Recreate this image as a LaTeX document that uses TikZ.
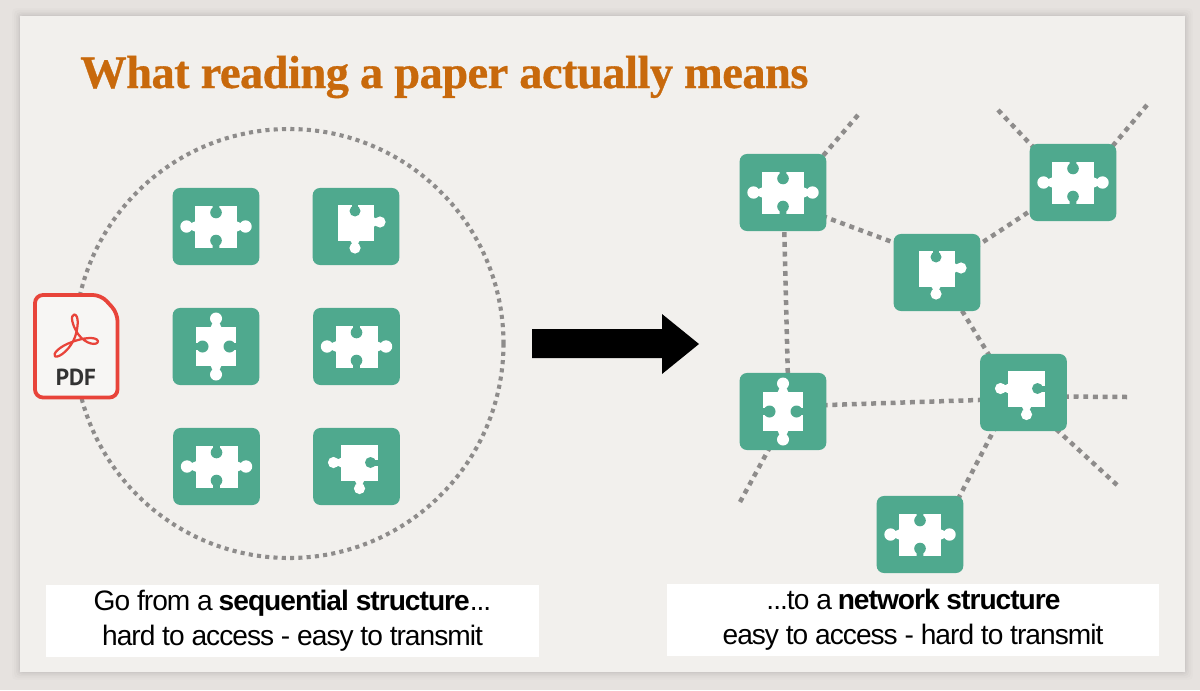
\documentclass[tikz,border=0pt]{standalone}
\usepackage{fontspec}
\setmainfont{Liberation Sans}
\newfontfamily\titlefont[LetterSpace=-1.1,FakeBold=0.7]{Liberation Serif}
\newfontfamily\bodyfont[LetterSpace=-3.5]{Liberation Sans}
\newfontfamily\pdffont{PT Sans}
\usetikzlibrary{backgrounds,calc}
\definecolor{tilecol}{HTML}{4FA98E}
\definecolor{pagecol}{HTML}{E6E2DF}
\definecolor{slidecol}{HTML}{F2F0ED}
\definecolor{dotcol}{HTML}{8E8C8B}
\definecolor{titlecol}{HTML}{C8690C}
\definecolor{pdfred}{HTML}{E8443A}
\tikzset{
  tile/.style={fill=tilecol,draw=none,rounded corners=0.18cm,minimum width=2.165cm,minimum height=1.925cm,inner sep=0pt},
  link/.style={draw=dotcol,line width=3.2pt,dash pattern=on 3.5pt off 3.4pt},
  ringline/.style={draw=dotcol,line width=2.9pt,dash pattern=on 2.9pt off 3pt},
  caption/.style={fill=white,minimum width=12.3cm,minimum height=1.8cm,inner sep=0pt,align=center,
    font=\bodyfont\fontsize{20pt}{25pt}\selectfont},
  pieceA/.pic={
    \fill[white] (-21,-21) rectangle (21,21);
    \fill[white] (-29.5,0) circle (6.2) (29.5,0) circle (6.2);
    \fill[white] (-20,-5.5) -- (-26,-2.8) -- (-26,2.8) -- (-20,5.5) -- cycle (20,-5.5) -- (26,-2.8) -- (26,2.8) -- (20,5.5) -- cycle;
    \fill[tilecol] (0,-14) circle (5.8) (0,14) circle (5.8);
    \fill[tilecol] (-3.3,-21.5) rectangle (3.3,-14) (-3.3,21.5) rectangle (3.3,14);
  },
  pieceB/.pic={
    \fill[white] (-18.5,-22) rectangle (17.5,14);
    \fill[white] (24,-4.5) circle (5.6) (-1,21.5) circle (5.6);
    \fill[white] (17,-9.5) -- (22,-7) -- (22,-2) -- (17,0.5) -- cycle (-6,13.5) -- (-3.5,18) -- (1.5,18) -- (4,13.5) -- cycle;
    \fill[tilecol] (-1,-15.5) circle (5.5);
    \fill[tilecol] (-4,-22.5) rectangle (2,-15.5);
  },
  pieceC/.pic={
    \fill[white] (-20,-19.5) rectangle (20,19.5);
    \fill[white] (0,-28) circle (6) (0,28) circle (6);
    \fill[white] (-5.5,-19) -- (-2.8,-25) -- (2.8,-25) -- (5.5,-19) -- cycle (-5.5,19) -- (-2.8,25) -- (2.8,25) -- (5.5,19) -- cycle;
    \fill[tilecol] (-13.5,0) circle (6) (13.5,0) circle (6);
    \fill[tilecol] (-20.5,-3.3) rectangle (-13.5,3.3) (20.5,-3.3) rectangle (13.5,3.3);
  },
  pieceD/.pic={
    \fill[white] (-15.5,-22) rectangle (21,14);
    \fill[white] (-23,-4) circle (5.6) (3,22) circle (5.6);
    \fill[white] (-15,-9) -- (-20,-6.5) -- (-20,-1.5) -- (-15,1) -- cycle (-2,13.5) -- (0.5,18.5) -- (5.5,18.5) -- (8,13.5) -- cycle;
    \fill[tilecol] (14,-4) circle (5.5);
    \fill[tilecol] (14,-7) rectangle (21.5,-1);
  }
}
\begin{document}
\begin{tikzpicture}[x=0.025cm,y=-0.025cm]
\useasboundingbox (0,0) rectangle (1200,690);
% tiles, left group
\node[tile] (a1) at (216,226.5) {}; \pic at (a1.center) {pieceA};
\node[tile] (a2) at (356,226.5) {}; \pic at (a2.center) {pieceB};
\node[tile] (a3) at (216,346.5) {}; \pic at (a3.center) {pieceC};
\node[tile] (a4) at (356.5,346.5) {}; \pic at (a4.center) {pieceA};
\node[tile] (a5) at (216.5,466.5) {}; \pic at (a5.center) {pieceA};
\node[tile] (a6) at (356.5,466.5) {}; \pic at (a6.center) {pieceD};
% tiles, network
\node[tile] (n1) at (783,192.5) {}; \pic at (n1.center) {pieceA};
\node[tile] (n2) at (1073,182.5) {}; \pic at (n2.center) {pieceA};
\node[tile] (n3) at (937,272.5) {}; \pic at (n3.center) {pieceB};
\node[tile] (n4) at (783,411.5) {}; \pic at (n4.center) {pieceC};
\node[tile] (n5) at (1023.5,392.5) {}; \pic at (n5.center) {pieceD};
\node[tile] (n6) at (920,534.5) {}; \pic at (n6.center) {pieceA};
% free ends
\coordinate (e1) at (858,115);
\coordinate (e2) at (998,110);
\coordinate (e3) at (1147,105);
\coordinate (e4) at (740,502);
\coordinate (e5) at (1127,397);
\coordinate (e6) at (1117,485);
\coordinate (ringc) at (289,343.5);
\begin{scope}[on background layer]
  \fill[pagecol] (0,0) rectangle (1200,690);
  \foreach \g/\o in {8/0.012,6/0.015,4/0.02,2.5/0.025,1/0.03}
    \fill[black,opacity=\o,rounded corners=3pt] (20-\g,16-\g) rectangle (1185+\g,672+\g);
  \fill[slidecol] (20,16) rectangle (1185,672);
  \draw[ringline] (ringc) circle (214.5);
  \draw[link] ([shift={(30,20)}]n1.center) -- ([shift={(-30,-25)}]n3.center);
  \draw[link] ([shift={(30,-20)}]n3.center) -- ([shift={(-30,20)}]n2.center);
  \draw[link] ([shift={(20,30)}]n3.center) -- ([shift={(-30,-30)}]n5.center);
  \draw[link] ([shift={(1,30)}]n1.center) -- ([shift={(5,-30)}]n4.center);
  \draw[link] ([shift={(30,-6)}]n4.center) -- ([shift={(-30,7)}]n5.center);
  \draw[link] ([shift={(-23,25)}]n5.center) -- ([shift={(30,-20)}]n6.center);
  \draw[link] (e1) -- ([shift={(30,-25)}]n1.center);
  \draw[link] (e2) -- ([shift={(-30,-25)}]n2.center);
  \draw[link] (e3) -- ([shift={(30,-25)}]n2.center);
  \draw[link] (e4) -- ([shift={(-10,30)}]n4.center);
  \draw[link] (e5) -- ([shift={(30,4)}]n5.center);
  \draw[link] (e6) -- ([shift={(20,25)}]n5.center);
\end{scope}
% title
\node[anchor=base west,inner sep=0pt,text=titlecol,font=\titlefont\bfseries\fontsize{33pt}{33pt}\selectfont] (title) at (80,88) {What reading a paper actually means};
% captions
\node[caption] (c1) at (292.5,621) {Go from a \textbf{sequential structure}...\\hard to access - easy to transmit};
\node[caption] (c2) at (913,620) {...to a \textbf{network structure}\\easy to access - hard to transmit};
% arrow
\fill[black] (532,329) -- (662,329) -- (662,314) -- (699,344) -- (662,374) -- (662,358) -- (532,358) -- cycle;
% pdf icon
\draw[pdfred,line width=2.7pt,fill=slidecol!60!white,rounded corners=0.2cm] (35,295) -- (101,295) -- (117.5,313) -- (117.5,397.5) -- (35,397.5) -- cycle;
\draw[pdfred,line width=1.6pt,line join=round]
  (74.3,314.5) .. controls (79,315) and (78.5,327) .. (75,337)
  .. controls (71,348) and (60,358) .. (55,356.5)
  .. controls (52,354) and (60,346) .. (72,342)
  .. controls (82,338) and (96,336) .. (98,341)
  .. controls (98,346) and (86,345) .. (78,334)
  .. controls (72,325) and (70,315) .. (74.3,314.5) -- cycle;
\node[inner sep=0pt,text=black!80,font=\pdffont\bfseries\fontsize{16.5pt}{16.5pt}\selectfont] (pdf) at (76,377) {PDF};
\end{tikzpicture}
\end{document}
